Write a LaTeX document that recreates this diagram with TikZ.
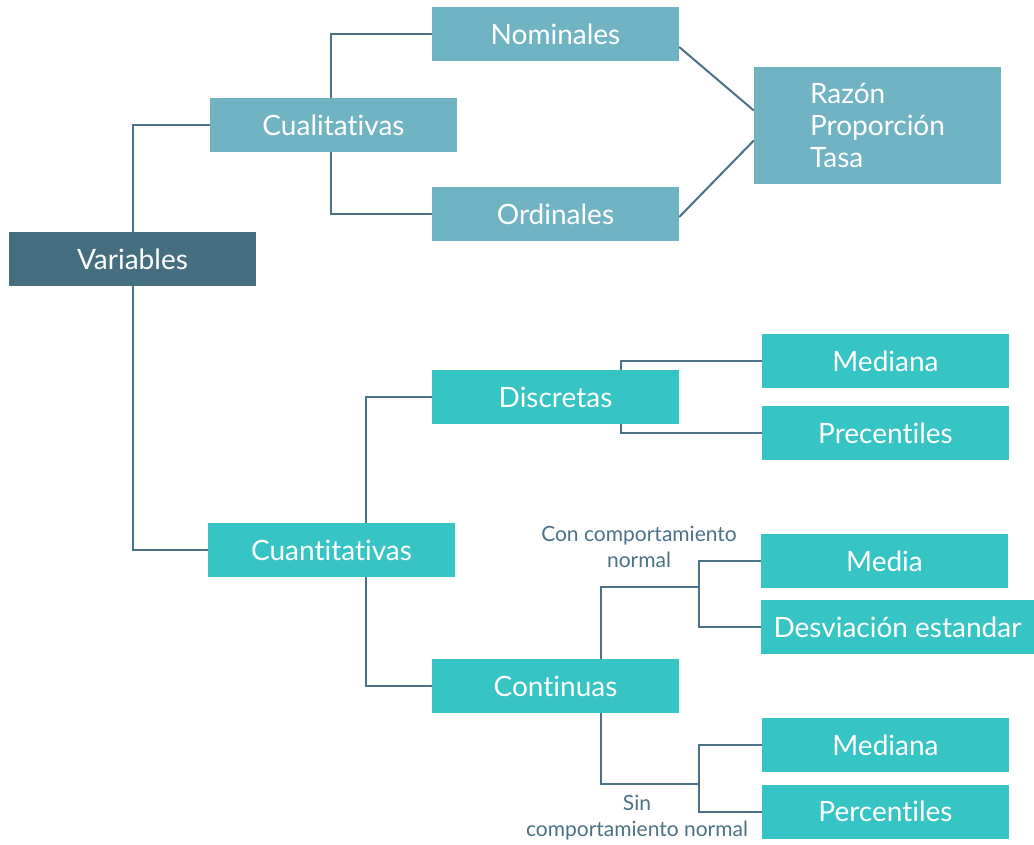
\documentclass[tikz,border=0pt]{standalone}
\usepackage{fontspec}
\setmainfont{Lato}[Ligatures=NoCommon]

\definecolor{dark}{HTML}{456F80}
\definecolor{pale}{HTML}{70B3C3}
\definecolor{teal}{HTML}{37C4C4}
\definecolor{wire}{HTML}{4A7186}

\tikzset{
  box/.style={fill=#1, text=white, minimum width=247pt, minimum height=54pt,
    inner sep=0pt, font=\fontsize{28}{32}\selectfont},
  lbl/.style={text=wire, align=center, inner sep=0pt, font=\fontsize{21}{26}\selectfont},
  wire/.style={draw=wire, line width=2pt}
}

\begin{document}
\begin{tikzpicture}[x=1pt,y=-1pt]
        \useasboundingbox (0,0) rectangle (1034,844);
        \node[box=dark] (V) at (132.5,259) {Variables};
        \node[box=pale] (CL) at (333.5,125) {Cualitativas};
        \node[box=pale] (NO) at (555.5,34) {Nominales};
        \node[box=pale] (OR) at (555.5,214) {Ordinales};
        \node[box=pale, minimum height=117pt, align=left] (R) at (877.5,125.5) {Razón\\Proporción\\Tasa};
        \node[box=teal] (CT) at (331.5,550) {Cuantitativas};
        \node[box=teal] (DI) at (555.5,397) {Discretas};
        \node[box=teal] (CO) at (555.5,686) {Continuas};
        \node[box=teal] (MA) at (885.5,361) {Mediana};
        \node[box=teal] (PR) at (885.5,433) {Precentiles};
        \node[box=teal] (ME) at (884.5,561) {Media};
        \node[box=teal, minimum width=273pt] (DE) at (897.5,627) {Desviación estandar};
        \node[box=teal] (MB) at (885.5,745) {Mediana};
        \node[box=teal] (PE) at (885.5,811.5) {Percentiles};
        \node[lbl] (L1) at (639,547) {Con comportamiento\\normal};
        \node[lbl] (L2) at (637,818) {Sin\\comportamiento normal};
        \coordinate (J1) at (699,587);
        \coordinate (J2) at (699,784);
        \draw [wire] (V.north) |- (CL.west);
        \draw [wire] (V.south) |- (CT.west);
        \draw [wire] ([xshift=-2.5]CL.north) |- (NO.west);
        \draw [wire] ([xshift=-2.5]CL.south) |- (OR.west);
        \draw [wire] (NO.east) ++(0,13) -- ([yshift=15]R.west);
        \draw [wire] (OR.east) ++(0,3) -- ([yshift=-15]R.west);
        \draw [wire] ([xshift=34.5]CT.north) |- (DI.west);
        \draw [wire] ([xshift=34.5]CT.south) |- (CO.west);
        \draw [wire] (MA.west) -| ([xshift=65]DI.north) ;
        \draw [wire] (PR.west) -| ([xshift=65]DI.south);
        \draw [wire] ([xshift=45.5]CO.north) |- (J1);
        \draw [wire] (ME.west) -| (J1) |- (DE.west);
        \draw [wire] ([xshift=45.5]CO.south) |- (J2);
        \draw [wire] (MB.west) -| (J2) |- (PE.west);
    \end{tikzpicture}
\end{document}
